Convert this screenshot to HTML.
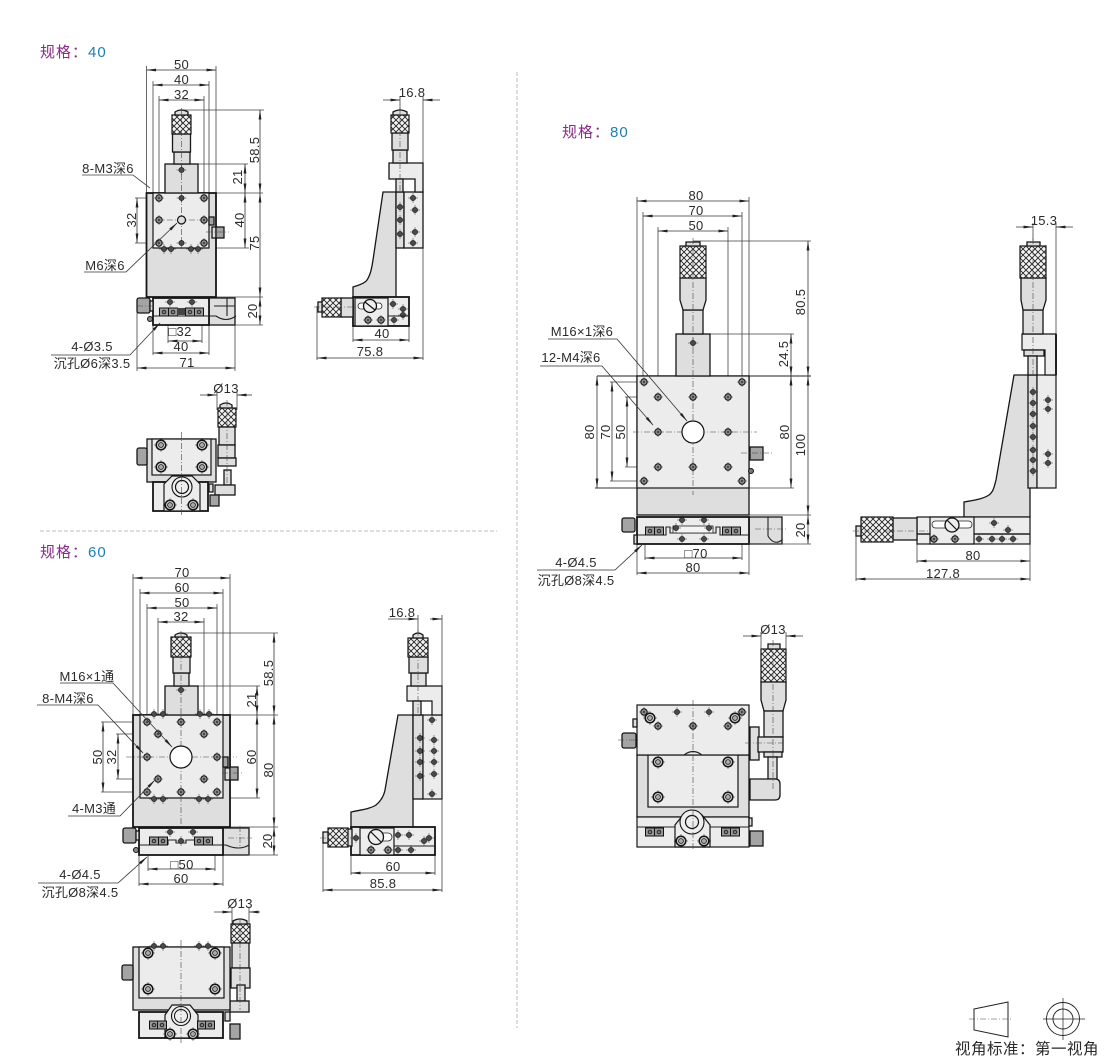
<!DOCTYPE html>
<html><head><meta charset="utf-8"><style>
html,body{margin:0;padding:0;background:#fff}
svg{display:block}
text{font-family:"Liberation Sans","Noto Sans CJK SC",sans-serif;font-size:13px;fill:#2a2a2a;text-anchor:middle;letter-spacing:.3px}
.s{text-anchor:start;font-size:15px;letter-spacing:1px}
.p{fill:#8c2a86}.b{fill:#1c7fb6}
.d{fill:none;stroke:#333;stroke-width:.8;marker-start:url(#a);marker-end:url(#a)}
.o{fill:none;stroke:#333;stroke-width:.8;marker-end:url(#a)}
.e,.l{fill:none;stroke:#444;stroke-width:.8}
.c{fill:none;stroke:#444;stroke-width:.6;stroke-dasharray:6 2 1 2}
.f{fill:#dedede;stroke:#161616;stroke-width:1.300}
.g{fill:#ececec;stroke:#161616;stroke-width:1.200}
.n{fill:none;stroke:#222;stroke-width:1.100}
.k{fill:url(#kn);stroke:#161616;stroke-width:1.200}
.m{fill:#a4a4a4}
.t{stroke-width:1.800}
.lt{fill:#ececec}
</style></head><body>
<svg width="1110" height="1060" viewBox="0 0 1110 1060" xmlns="http://www.w3.org/2000/svg">
<defs>
<marker id="a" markerUnits="userSpaceOnUse" markerWidth="10" markerHeight="4" refX="9.5" refY="2" orient="auto-start-reverse"><path d="M0 .6L10 2L0 3.4z" fill="#222"/></marker>
<pattern id="kn" width="6" height="6" patternUnits="userSpaceOnUse"><rect width="6" height="6" fill="#f4f4f4"/><path d="M0 0L6 6M6 0L0 6" stroke="#222" stroke-width=".9"/></pattern>
<g id="h"><path d="M-5 0H5M0-5V5" stroke="#333" stroke-width=".5"/><circle r="2.600" fill="#4a4a4a" stroke="#111" stroke-width=".6"/></g>
<g id="q"><path d="M-5 0H5M0-5V5" stroke="#333" stroke-width=".5"/><circle r="3.200" fill="#888" stroke="#111" stroke-width="1"/><circle r="1" fill="#333"/></g>
<g id="r"><path d="M-7 0H7M0-7V7" stroke="#333" stroke-width=".5"/><circle r="4.800" fill="#ccc" stroke="#111" stroke-width="1.500"/><circle r="2.400" fill="#aaa" stroke="#111" stroke-width=".8"/></g>
<g id="b"><rect x="-4.500" y="-4" width="9" height="8" fill="#999" stroke="#111"/><circle r="2.300" fill="#333"/><circle r=".8" fill="#ddd"/></g>
</defs>

<text class="s p" x="40" y="57">规格：<tspan class="b">40</tspan></text>
<text class="s p" x="40" y="557">规格：<tspan class="b">60</tspan></text>
<text class="s p" x="562" y="137">规格：<tspan class="b">80</tspan></text>
<path d="M40 531H497M517 72V1028" stroke="#aaa" stroke-width=".8" stroke-dasharray="4 2" fill="none"/>

<!-- 40 FRONT -->
<path class="e" d="M146.500 66V193M216 66V193M153 81V193M209 81V193M159 96V200M204 96V200M182 110H264M198 164H248M193 193H263M209 248H249M216 297H263M135 198H159M135 243H159M137 300V371M235 300V371M153 325V355M209 325V355M168 325V343M202 325V343"/>
<rect class="f t" x="146.500" y="193" width="69.500" height="104"/>
<rect class="g" x="153" y="193" width="56" height="55"/>
<rect class="f" x="165" y="164" width="33" height="29"/>
<rect class="f" x="174" y="152" width="16" height="12"/>
<rect class="f" x="172.500" y="134" width="18" height="18"/>
<rect class="k" x="172" y="115" width="19" height="19"/>
<path class="f" d="M175 115V112Q181 108 188 112V115z"/>
<path class="c" d="M181.500 108V250M156 220H207"/>
<use href="#h" x="181.500" y="170"/>
<use href="#q" x="159" y="198"/><use href="#h" x="181.500" y="198"/><use href="#q" x="204" y="198"/>
<use href="#q" x="159" y="220"/><use href="#q" x="204" y="220"/>
<use href="#q" x="159" y="243"/><use href="#h" x="181.500" y="243"/><use href="#q" x="204" y="243"/>
<circle cx="181.500" cy="220" r="4" fill="#ddd" stroke="#111" stroke-width="1.200"/>
<use href="#h" x="164" y="249"/><use href="#h" x="171" y="249"/><use href="#h" x="191" y="249"/><use href="#h" x="198" y="249"/>
<rect class="f m" x="209" y="217" width="5" height="8"/><rect class="f" x="212" y="227" width="4" height="11"/><rect class="f m" x="216" y="227" width="8" height="11"/>
<path class="c" d="M206 232H229"/>
<rect class="f" x="209" y="298" width="26" height="27"/><path class="n" d="M209 316H216Q226 323 236 316"/>
<path class="n" d="M214 306H235M227 298V316"/>
<rect class="g t" x="153" y="298" width="56" height="27"/><path class="n" d="M153 316H209"/>
<use href="#h" x="170" y="302"/><use href="#h" x="192" y="302"/>
<use href="#b" x="164" y="312"/><use href="#b" x="173" y="312"/><use href="#b" x="190" y="312"/><use href="#b" x="199" y="312"/><rect x="177" y="308" width="8" height="7" fill="#444"/>
<rect class="f m" x="137" y="298" width="13" height="15" rx="2"/><rect class="f" x="150" y="301" width="3" height="10"/>
<circle cx="150" cy="319" r="2.500" fill="#888" stroke="#111"/>
<text x="181.500" y="69">50</text><text x="181.500" y="84">40</text><text x="181.500" y="99">32</text>
<path class="d" d="M146.500 70H216"/><path class="d" d="M153 85H209"/><path class="d" d="M159 100H204"/>
<path class="d" d="M260 110V193"/><path class="d" d="M245 164V193"/><path class="d" d="M245 193V248"/><path class="d" d="M260 193V297"/><path class="d" d="M137 198V243"/>
<text transform="rotate(-90 259 150)" x="259" y="150">58.5</text>
<text transform="rotate(-90 242 177)" x="242" y="177">21</text>
<text transform="rotate(-90 244 220)" x="244" y="220">40</text>
<text transform="rotate(-90 259 243)" x="259" y="243">75</text>
<text transform="rotate(-90 136 220)" x="136" y="220">32</text>
<text x="108" y="173">8-M3深6</text><path class="l" d="M82 175H133L150 188"/>
<text x="105" y="270">M6深6</text><path class="o" d="M84 272H126L177 223"/>
<path class="d" d="M168 341H202"/><text x="180" y="336">□32</text>
<path class="d" d="M153 353H209"/><text x="181" y="351">40</text>
<path class="d" d="M137 368H235"/><text x="187" y="367">71</text>
<text x="92" y="351">4-Ø3.5</text><path class="o" d="M51 355H130L160 323"/><text x="92" y="368">沉孔Ø6深3.5</text>
<path d="M137 306H156" class="c"/>

<!-- 40 SIDE -->
<path class="e" d="M400 96V110M423 96V163M423 163V360M353 326V342M409 326V342M317 306V360"/>
<path class="f" d="M383 192H396V297H353V287C360 285 365 283 367 280C371 274 372 266 373 260z"/>
<rect class="f" x="396" y="192" width="8" height="56"/>
<rect class="f lt" x="404" y="192" width="19" height="56"/>
<path class="f lt" d="M389 163H423V192H415V179H389z"/>
<rect class="f" x="396" y="179" width="7" height="13"/>
<rect class="f" x="393" y="150" width="14" height="13"/>
<rect class="f" x="392" y="133" width="16" height="17"/>
<rect class="k" x="391" y="115" width="18" height="18"/>
<path class="f" d="M393 115V112Q400 108 407 112V115z"/>
<path class="c" d="M400 108V192"/>
<use href="#h" x="400" y="207"/><use href="#h" x="400" y="220"/><use href="#h" x="400" y="234"/>
<use href="#h" x="413" y="198"/><use href="#h" x="415" y="210"/><use href="#h" x="415" y="232"/><use href="#h" x="413" y="243"/>
<rect class="g t" x="353" y="297" width="56" height="29"/>
<rect class="g" x="355" y="298" width="33" height="28"/>
<rect x="358" y="303" width="24" height="6" rx="3" fill="#fff" stroke="#222" stroke-width=".8"/>
<circle cx="370" cy="306" r="6.500" fill="#eee" stroke="#111" stroke-width="1.300"/><path d="M365 302L375 310" stroke="#111" stroke-width="1.200"/>
<use href="#q" x="368" y="320"/><use href="#q" x="381" y="320"/><use href="#h" x="393" y="304"/><use href="#h" x="403" y="309"/><use href="#h" x="403" y="315"/><use href="#h" x="394" y="320"/>
<path class="n" d="M388 316H409"/>
<rect class="f" x="341" y="298" width="12" height="19"/><rect class="k" x="322" y="298" width="19" height="19"/><rect class="f" x="318" y="302" width="4" height="10"/>
<path class="c" d="M314 307H357"/>
<path class="o" d="M383 100H400"/><path class="o" d="M440 100H423"/><text x="412" y="97">16.8</text>
<path class="d" d="M353 340H409"/><text x="382" y="338">40</text>
<path class="d" d="M317 358H423"/><text x="370" y="356">75.8</text>

<!-- 40 BOTTOM -->
<path class="o" d="M200 395H217"/><path class="o" d="M252 395H237"/><text x="226" y="393">Ø13</text>
<path class="e" d="M217 391V410M237 391V410"/>
<rect class="k" x="218" y="408" width="18" height="19"/><path class="f" d="M220 408V405Q226 401 232 405V408z"/>
<rect class="f" x="219" y="427" width="16" height="18"/><rect class="f" x="218" y="445" width="17" height="13"/><rect class="f" x="218" y="458" width="18" height="8"/>
<rect class="f" x="224" y="470" width="7" height="15"/><rect class="f" x="215" y="485" width="20" height="10"/>
<rect class="f" x="147" y="439" width="69" height="43"/><rect class="g" x="152" y="439" width="59" height="36"/>
<use href="#r" x="161" y="445"/><use href="#r" x="202" y="445"/><use href="#r" x="161" y="467"/><use href="#r" x="202" y="467"/>
<rect class="f m" x="137" y="448" width="10" height="17" rx="2"/>
<rect class="g t" x="153" y="482" width="55" height="29"/>
<path class="g" d="M172 476H192L200 484V511H164V484z"/>
<circle cx="182" cy="487" r="10" fill="#eee" stroke="#111" stroke-width="1.100"/><circle cx="182" cy="487" r="6.500" fill="#eee" stroke="#111" stroke-width="1.200"/>
<use href="#r" x="170" y="505"/><use href="#r" x="193" y="505"/>
<rect class="f m" x="210" y="495" width="9" height="11"/><rect class="f" x="209" y="484" width="4" height="8"/>
<path class="c" d="M181.500 432V515M227 400V484"/>

<!-- 60 FRONT -->
<path class="e" d="M133 574V715M230 574V715M140 589V715M223 589V715M147 604V722M217 604V722M158 618V734M204 618V734M181 633H278M198 686H260M230 715H278M223 798H260M230 827H278M101 722H147M101 792H147M116 734H158M116 779H158M139 855V886M223 855V886M148 855V871M215 855V871M248 830V855"/>
<rect class="f t" x="133" y="715" width="97" height="112"/>
<rect class="g" x="140" y="715" width="83" height="83"/>
<rect class="f" x="165" y="686" width="33" height="29"/>
<rect class="f" x="174" y="673" width="15" height="13"/>
<rect class="f" x="173" y="657" width="17" height="16"/>
<rect class="k" x="171" y="637" width="20" height="20"/>
<path class="f" d="M175 637V635Q181 631 187 635V637z"/>
<path class="c" d="M181 631V825M126 757H237"/>
<use href="#h" x="181" y="690"/>
<circle cx="181" cy="757" r="11" fill="#fff" stroke="#111" stroke-width="1.200"/>
<use href="#q" x="147" y="722"/><use href="#q" x="181" y="722"/><use href="#q" x="217" y="722"/>
<use href="#q" x="147" y="757"/><use href="#q" x="217" y="757"/>
<use href="#q" x="147" y="792"/><use href="#q" x="181" y="792"/><use href="#q" x="217" y="792"/>
<use href="#q" x="158" y="734"/><use href="#q" x="204" y="734"/><use href="#q" x="158" y="779"/><use href="#q" x="204" y="779"/>
<use href="#h" x="154" y="714"/><use href="#h" x="163" y="714"/><use href="#h" x="200" y="714"/><use href="#h" x="209" y="714"/>
<use href="#h" x="154" y="799"/><use href="#h" x="163" y="799"/><use href="#h" x="199" y="799"/><use href="#h" x="208" y="799"/>
<rect class="f m" x="223" y="757" width="5" height="10"/><rect class="f" x="225" y="768" width="5" height="12"/><rect class="f m" x="230" y="767" width="8" height="13"/>
<path class="c" d="M222 773H243"/>
<rect class="f" x="223" y="828" width="26" height="27"/><path class="n" d="M223 845H226Q239 851 249 845"/><path class="c" d="M228 838H252M240 826V846"/>
<rect class="g t" x="139" y="828" width="84" height="27"/><path class="n" d="M139 845H168M195 845H223M168 845V840H176V843H186V840H195V845"/>
<use href="#h" x="170" y="832"/><use href="#h" x="193" y="832"/><use href="#h" x="181" y="841"/>
<use href="#b" x="154" y="841"/><use href="#b" x="163" y="841"/><use href="#b" x="199" y="841"/><use href="#b" x="208" y="841"/>
<rect class="f m" x="123" y="828" width="13" height="15" rx="2"/><rect class="f" x="136" y="831" width="3" height="9"/>
<circle cx="136" cy="850" r="2.500" fill="#888" stroke="#111"/>
<text x="182" y="577">70</text><text x="182" y="592">60</text><text x="182" y="607">50</text><text x="181" y="621">32</text>
<path class="d" d="M133 578H230"/><path class="d" d="M140 593H223"/><path class="d" d="M147 608H217"/><path class="d" d="M158 622H204"/>
<path class="d" d="M274 633V715"/><path class="d" d="M257 686V715"/><path class="d" d="M257 715V798"/><path class="d" d="M274 715V827"/><path class="d" d="M103 722V792"/><path class="d" d="M118 734V779"/>
<text transform="rotate(-90 273 673)" x="273" y="673">58.5</text>
<text transform="rotate(-90 256 700)" x="256" y="700">21</text>
<text transform="rotate(-90 256 757)" x="256" y="757">60</text>
<text transform="rotate(-90 273 770)" x="273" y="770">80</text>
<text transform="rotate(-90 102 757)" x="102" y="757">50</text>
<text transform="rotate(-90 116 757)" x="116" y="757">32</text>
<text x="87" y="681">M16×1通</text><path class="o" d="M60 683H113L172 747"/>
<text x="68" y="703">8-M4深6</text><path class="o" d="M37 705H98L143 753"/>
<text x="94" y="813">4-M3通</text><path class="o" d="M68 816H120L155 780"/>
<path class="d" d="M148 869H215"/><text x="182" y="869">□50</text>
<path class="d" d="M139 884H223"/><text x="181" y="883">60</text>
<text x="80" y="879">4-Ø4.5</text><path class="o" d="M38 883H118L147 857"/><text x="80" y="897">沉孔Ø8深4.5</text>

<!-- 60 SIDE -->
<path class="e" d="M418 615V632M442 615V892M351 855V875M435 855V875M323 838V892"/>
<path class="f" d="M398 715H413V827H351V812C360 810 370 809 376 805C382 800 384 795 385 790z"/>
<rect class="f" x="413" y="715" width="10" height="84"/>
<rect class="g" x="423" y="715" width="19" height="84"/>
<path class="g" d="M407 686H442V715H432V701H407z"/>
<rect class="f" x="413" y="701" width="8" height="14"/>
<rect class="f" x="411" y="673" width="15" height="13"/><rect class="f" x="409" y="657" width="19" height="16"/>
<rect class="k" x="408" y="638" width="20" height="19"/><path class="f" d="M413 638V635Q418 631 423 635V638z"/>
<path class="c" d="M418 630V715"/>
<use href="#h" x="420" y="738"/><use href="#h" x="420" y="751"/><use href="#h" x="420" y="762"/><use href="#h" x="420" y="776"/>
<use href="#h" x="432" y="720"/><use href="#h" x="434" y="740"/><use href="#h" x="434" y="751"/><use href="#h" x="434" y="762"/><use href="#h" x="434" y="774"/><use href="#h" x="432" y="794"/>
<rect class="g t" x="351" y="827" width="84" height="28"/><rect class="g" x="360" y="828" width="34" height="27"/>
<rect x="368" y="833" width="24" height="8" rx="4" fill="#fff" stroke="#222" stroke-width=".8"/>
<circle cx="376" cy="837" r="7.500" fill="#eee" stroke="#111" stroke-width="1.300"/><path d="M371 832L381 842" stroke="#111" stroke-width="1.200"/>
<use href="#q" x="371" y="850"/><use href="#q" x="388" y="850"/><use href="#h" x="398" y="835"/><use href="#h" x="409" y="835"/><use href="#h" x="424" y="841"/><use href="#h" x="429" y="838"/><use href="#h" x="398" y="850"/><use href="#h" x="411" y="850"/><use href="#h" x="356" y="838"/>
<path class="n" d="M394 846H435"/>
<rect class="f" x="347" y="829" width="5" height="17"/><rect class="k" x="328" y="828" width="20" height="19"/><rect class="f" x="323" y="832" width="5" height="11"/>
<path class="c" d="M320 838H360"/>
<path class="o" d="M388 619H418"/><path class="o" d="M430 619H442"/><text x="402" y="617">16.8</text>
<path class="d" d="M351 873H435"/><text x="393" y="871">60</text>
<path class="d" d="M323 890H442"/><text x="383" y="888">85.8</text>

<!-- 60 BOTTOM -->
<path class="o" d="M214 912H232"/><path class="o" d="M260 912H249"/><text x="240" y="908">Ø13</text>
<path class="e" d="M232 908V925M249 908V925"/>
<rect class="k" x="231" y="924" width="19" height="19"/><path class="f" d="M233 924V921Q240 917 247 921V924z"/>
<rect class="f" x="232" y="943" width="17" height="25"/><rect class="f" x="231" y="968" width="19" height="20"/>
<rect class="f" x="237" y="985" width="8" height="16"/><rect class="f" x="230" y="1001" width="19" height="11"/>
<rect class="f" x="133" y="947" width="97" height="63"/><rect class="g" x="139" y="947" width="85" height="51"/>
<use href="#r" x="148" y="953"/><use href="#r" x="215" y="953"/><use href="#r" x="148" y="989"/><use href="#r" x="215" y="989"/>
<use href="#h" x="154" y="946"/><use href="#h" x="163" y="946"/><use href="#h" x="199" y="946"/><use href="#h" x="208" y="946"/>
<rect class="f m" x="122" y="965" width="11" height="15" rx="2"/>
<rect class="g t" x="139" y="1012" width="84" height="26"/>
<path class="g" d="M172 1005H190L198 1015V1038H165V1015z"/>
<circle cx="181" cy="1016" r="9.500" fill="#eee" stroke="#111" stroke-width="1.100"/><circle cx="181" cy="1016" r="6.500" fill="#eee" stroke="#111" stroke-width="1"/>
<use href="#b" x="154" y="1025"/><use href="#b" x="162" y="1025"/><use href="#b" x="202" y="1025"/><use href="#b" x="210" y="1025"/>
<use href="#r" x="170" y="1034"/><use href="#r" x="193" y="1034"/>
<rect class="f" x="225" y="1012" width="5" height="9"/><rect class="f m" x="230" y="1024" width="10" height="15"/>
<path class="c" d="M181 940V1043M240 920V1010"/>

<!-- 80 FRONT -->
<path class="e" d="M637 197V376M749 197V376M643 212V382M742 212V382M658 227V397M728 227V397M693 241H811M710 334H794M749 488H794M749 515H811M595 488H637M610 382H644M610 481H644M625 397H658M625 467H658M637 544V575M749 544V575M645 544V560M742 544V560"/>
<path d="M597 376H811" stroke="#222" stroke-width="1"/><path d="M595 488H637" stroke="#222" stroke-width=".7"/>
<rect class="f" x="637" y="376" width="112" height="139"/>
<rect class="g" x="637" y="376" width="112" height="112"/>
<rect class="f" x="676" y="334" width="34" height="42"/>
<rect class="f" x="683" y="310" width="20" height="24"/>
<path class="f" d="M680 278H706V300L703 310H683L680 300z"/>
<rect class="k" x="680" y="246" width="26" height="32"/>
<path class="f" d="M686 246V242H700V246z"/>
<path class="c" d="M693 238V495M633 432H757"/>
<use href="#h" x="693" y="343"/>
<circle cx="693" cy="432" r="11" fill="#fff" stroke="#111" stroke-width="1.200"/>
<use href="#q" x="644" y="382"/><use href="#q" x="742" y="382"/><use href="#q" x="658" y="397"/><use href="#q" x="693" y="397"/><use href="#q" x="728" y="397"/>
<use href="#q" x="658" y="432"/><use href="#q" x="728" y="432"/><use href="#q" x="658" y="467"/><use href="#q" x="693" y="467"/><use href="#q" x="728" y="467"/><use href="#q" x="644" y="481"/><use href="#q" x="742" y="481"/>
<rect class="f m" x="750" y="447" width="13" height="13"/><path class="c" d="M741 453H772"/>
<circle cx="751" cy="471" r="2.500" fill="#777" stroke="#111"/>
<rect class="f" x="749" y="517" width="33" height="27"/><path class="n" d="M768 517V536Q774 546 782 540"/><path class="c" d="M755 529H786"/>
<rect class="g t" x="637" y="517" width="112" height="27"/>
<path class="n" d="M637 535H666V527H670V533H716V527H720V535H749"/>
<rect x="673" y="526" width="40" height="7" fill="#f4f4f4" stroke="#222" stroke-width=".8"/>
<use href="#h" x="682" y="520"/><use href="#h" x="704" y="520"/><use href="#h" x="682" y="539"/><use href="#h" x="704" y="539"/><use href="#h" x="676" y="528"/><use href="#h" x="709" y="528"/>
<use href="#b" x="650" y="531"/><use href="#b" x="659" y="531"/><use href="#b" x="727" y="531"/><use href="#b" x="736" y="531"/>
<rect class="f m" x="622" y="518" width="13" height="14" rx="2"/><rect class="f" x="634" y="535" width="3" height="9"/>
<text x="696" y="200">80</text><text x="696" y="215">70</text><text x="696" y="230">50</text>
<path class="d" d="M637 201H749"/><path class="d" d="M643 216H742"/><path class="d" d="M658 231H728"/>
<path class="d" d="M808 241V376"/><path class="d" d="M791 334V376"/><path class="d" d="M791 376V488"/><path class="d" d="M808 376V515"/><path class="d" d="M597 376V488"/><path class="d" d="M612 382V481"/><path class="d" d="M627 397V467"/><path class="d" d="M808 515V544"/>
<path class="e" d="M749 544H811"/>
<text transform="rotate(-90 805 302)" x="805" y="302">80.5</text>
<text transform="rotate(-90 788 354)" x="788" y="354">24.5</text>
<text transform="rotate(-90 789 432)" x="789" y="432">80</text>
<text transform="rotate(-90 805 445)" x="805" y="445">100</text>
<text transform="rotate(-90 805 530)" x="805" y="530">20</text>
<text transform="rotate(-90 594 432)" x="594" y="432">80</text>
<text transform="rotate(-90 610 432)" x="610" y="432">70</text>
<text transform="rotate(-90 625 432)" x="625" y="432">50</text>
<text x="582" y="336">M16×1深6</text><path class="o" d="M548 339H617L687 421"/>
<text x="571" y="362">12-M4深6</text><path class="o" d="M540 366H602L653 425"/>
<path class="d" d="M645 558H742"/><text x="696" y="558">□70</text>
<path class="d" d="M637 573H749"/><text x="693" y="572">80</text>
<text x="576" y="567">4-Ø4.5</text><path class="o" d="M537 570H615L642 545"/><text x="576" y="585">沉孔Ø8深4.5</text>

<path class="d" d="M260 297V325"/><text transform="rotate(-90 257 311)" x="257" y="311">20</text><path class="e" d="M235 325H263"/>
<path class="d" d="M274 827V855"/><text transform="rotate(-90 272 841)" x="272" y="841">20</text><path class="e" d="M248 855H278"/>

<!-- 80 SIDE -->
<path class="e" d="M1033 223V241M1056 223V334M917 544V563M1030 544V581M856 535V581"/>
<path class="f" d="M1014 375H1030V517H964V502C975 500 983 499 989 495C993 492 994 488 996 480z"/>
<rect class="f" x="1028" y="375" width="9" height="113"/>
<rect class="g" x="1037" y="375" width="19" height="113"/>
<path class="g" d="M1022 334H1056V375H1045V350H1022z"/>
<path d="M1056 334V375" stroke="#222" stroke-width="2"/>
<rect class="f" x="1024" y="350" width="20" height="6"/>
<rect class="f" x="1028" y="356" width="9" height="19"/>
<rect class="f" x="1023" y="310" width="20" height="24"/>
<path class="f" d="M1021 278H1046V300L1043 310H1023L1021 300z"/>
<rect class="k" x="1020" y="246" width="26" height="32"/>
<path class="f" d="M1027 246V242H1040V246z"/>
<path class="c" d="M1033 238V375"/>
<use href="#h" x="1033" y="392"/><use href="#h" x="1033" y="403"/><use href="#h" x="1033" y="414"/><use href="#h" x="1033" y="426"/><use href="#h" x="1033" y="437"/><use href="#h" x="1033" y="450"/><use href="#h" x="1033" y="460"/><use href="#h" x="1033" y="471"/>
<use href="#h" x="1048" y="400"/><use href="#h" x="1048" y="409"/><use href="#h" x="1048" y="454"/><use href="#h" x="1048" y="463"/>
<rect class="g" x="917" y="517" width="113" height="27"/>
<path d="M917 534H1030" stroke="#222" stroke-width="1.500"/>
<rect class="g" x="930" y="517" width="44" height="27"/>
<rect x="932" y="521" width="40" height="7" rx="3.500" fill="#fff" stroke="#222" stroke-width=".8"/>
<circle cx="952" cy="525" r="7" fill="#eee" stroke="#111" stroke-width="1.300"/><path d="M947 520L957 530" stroke="#111" stroke-width="1.200"/>
<use href="#q" x="934" y="539"/><use href="#q" x="955" y="539"/><use href="#h" x="994" y="523"/><use href="#h" x="1008" y="530"/><use href="#h" x="979" y="539"/><use href="#h" x="992" y="539"/><use href="#h" x="1002" y="539"/><use href="#h" x="1013" y="539"/>
<rect class="f" x="893" y="518" width="24" height="22"/><rect class="k" x="861" y="517" width="32" height="25"/><rect class="f" x="856" y="526" width="5" height="10"/>
<path class="c" d="M853 531H930"/>
<path class="o" d="M1016 227H1033"/><path class="o" d="M1073 227H1056"/><text x="1044" y="225">15.3</text>
<path class="d" d="M917 561H1030"/><text x="973" y="560">80</text>
<path class="d" d="M856 579H1030"/><text x="943" y="578">127.8</text>

<!-- 80 BOTTOM -->
<path class="o" d="M743 636H761"/><path class="o" d="M803 636H786"/><text x="773" y="634">Ø13</text>
<path class="e" d="M761 632V650M786 632V650"/>
<rect class="f" x="750" y="727" width="9" height="33"/>
<rect class="k" x="761" y="649" width="25" height="33"/><path class="f" d="M768 649V644H780V649z"/>
<path class="f" d="M761 682H786V700L783 711H764L761 700z"/><rect class="f" x="764" y="711" width="19" height="26"/>
<rect class="f" x="758" y="737" width="25" height="15"/><rect class="f" x="764" y="752" width="18" height="5"/><rect class="f" x="768" y="757" width="9" height="22"/>
<path class="f" d="M750 779H775Q780 779 780 784V795Q780 800 775 800H750z"/>
<rect class="f" x="637" y="755" width="112" height="62"/><rect class="g" x="648" y="755" width="90" height="52"/>
<rect class="g" x="637" y="705" width="112" height="50"/>
<use href="#q" x="644" y="712"/><use href="#r" x="650" y="718"/><use href="#q" x="658" y="726"/><use href="#q" x="742" y="712"/><use href="#r" x="735" y="718"/><use href="#q" x="728" y="726"/>
<use href="#h" x="677" y="712"/><use href="#h" x="709" y="712"/><use href="#q" x="693" y="726"/>
<use href="#r" x="658" y="762"/><use href="#r" x="728" y="762"/><use href="#r" x="658" y="797"/><use href="#r" x="728" y="797"/>
<path class="n" d="M684 755Q693 748 702 755"/>
<rect class="f m" x="622" y="733" width="14" height="15" rx="2"/><rect class="f" x="633" y="719" width="4" height="8"/>
<rect class="g" x="637" y="817" width="112" height="30"/><path class="n" d="M637 827H749"/>
<path class="g" d="M683 815H702L710 825V847H675V825z"/>
<circle cx="692" cy="822" r="12" fill="#eee" stroke="#111" stroke-width="1.100"/><circle cx="692" cy="822" r="6.500" fill="#eee" stroke="#111" stroke-width="1.200"/>
<use href="#r" x="681" y="841"/><use href="#r" x="704" y="841"/>
<use href="#b" x="650" y="832"/><use href="#b" x="659" y="832"/><use href="#b" x="726" y="832"/><use href="#b" x="735" y="832"/>
<rect class="f m" x="750" y="831" width="13" height="15"/><rect class="f" x="749" y="818" width="3" height="8"/>
<path class="c" d="M693 700V850M745 743H783M773 640V790M618 740H640"/>

<!-- LEGEND -->
<path d="M974 1009L1008 1002V1037L974 1030z" fill="none" stroke="#222" stroke-width="1"/>
<path class="c" d="M969 1019H1013"/>
<circle cx="1063" cy="1019" r="16.500" fill="none" stroke="#222" stroke-width=".9"/><circle cx="1063" cy="1019" r="10" fill="none" stroke="#222" stroke-width=".9"/>
<path d="M1043 1019H1085M1063 998V1040" stroke="#222" stroke-width=".7"/>
<text x="1027" y="1054" style="font-size:15.500px;letter-spacing:.5px">视角标准：第一视角</text>
</svg>
</body></html>
